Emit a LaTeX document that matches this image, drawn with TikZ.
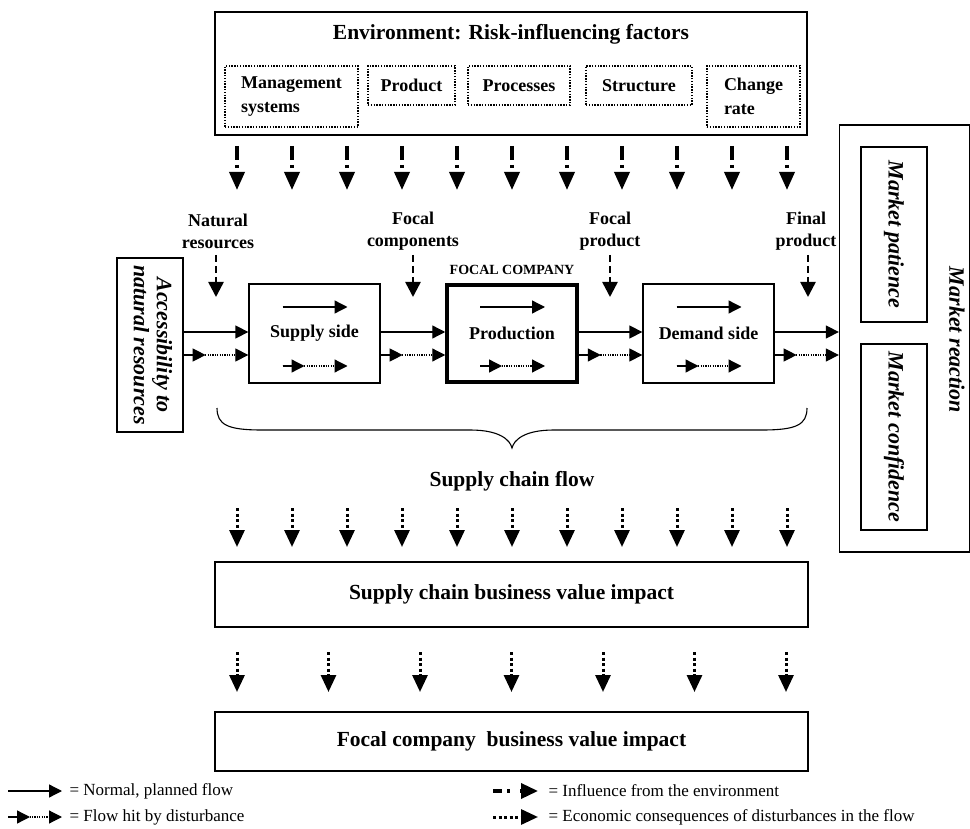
\documentclass[tikz,border=0pt]{standalone}
\usepackage{fontspec}
\setmainfont{Liberation Serif}
\usetikzlibrary{arrows.meta}
\newcommand\fTitle{\fontsize{21.5}{24}\selectfont\bfseries}
\newcommand\fLbl{\fontsize{18}{22}\selectfont\bfseries}
\newcommand\fLblb{\fontsize{18}{24}\selectfont\bfseries}
\newcommand\fItal{\fontsize{22}{23}\selectfont\bfseries\itshape}
\newcommand\fSmall{\fontsize{14}{16}\selectfont\bfseries}
\newcommand\fLeg{\fontsize{17}{19}\selectfont}
\newcommand\disturbarrow[2]{%
  \draw[dotflow] (#1) -- (#2);
  \draw[flow] (#1) -- ([xshift=22pt]#1);}
\begin{document}
\begin{tikzpicture}[x=1pt,y=-1pt,
  box/.style={draw,line width=1.3pt,inner sep=0pt,align=center},
  dbox/.style={draw,line width=1.4pt,dash pattern=on 1.4pt off 1.4pt,inner sep=0pt},
  flow/.style={line width=1.3pt,-{Triangle[length=13pt,width=13pt]}},
  dotflow/.style={line width=1.2pt,dash pattern=on 1.2pt off 1.2pt,-{Triangle[length=13pt,width=13pt]}},
  infl/.style={line width=3.5pt,dash pattern=on 14pt off 5pt on 3pt off 10pt,-{Triangle[length=18pt,width=15pt]}},
  inflh/.style={line width=3.5pt,dash pattern=on 9pt off 5pt on 3pt off 10pt,-{Triangle[length=17pt,width=15pt]}},
  lbldash/.style={line width=2.5pt,dash pattern=on 7pt off 4pt,-{Triangle[length=15pt,width=15pt]}},
  econ/.style={line width=3pt,dash pattern=on 3pt off 2.5pt,-{Triangle[length=17pt,width=15pt]}},
]
\path[use as bounding box] (0,0) rectangle (970,829);

% Environment
\node[box,minimum width=592pt,minimum height=123pt] (env) at (511,73.5) {};
\node[font=\fTitle] (envt) at (511,34) {Environment: Risk-influencing factors};
\node[dbox,minimum width=133pt,minimum height=61pt,align=left,font=\fLblb] (mgmt) at (291.5,96.5) {Management\\systems};
\node[dbox,minimum width=87pt,minimum height=39pt,font=\fLbl] (prod) at (411.5,85.5) {Product};
\node[dbox,minimum width=102pt,minimum height=39pt,font=\fLbl] (proc) at (519,85.5) {Processes};
\node[dbox,minimum width=106pt,minimum height=39pt,font=\fLbl] (struc) at (639,85.5) {Structure};
\node[dbox,minimum width=93pt,minimum height=61pt,align=left,font=\fLblb] (chg) at (753.5,96.5) {Change\\rate};

\foreach \i in {0,...,10}{
  \coordinate (ia\i) at (237+55*\i,146);
  \coordinate (ib\i) at (237+55*\i,190);
  \draw[infl] (ia\i) -- (ib\i);
}

% input labels
\node[font=\fLbl,align=center] (lnat) at (218,231) {Natural\\resources};
\node[font=\fLbl,align=center] (lfc) at (413,231) {Focal\\components};
\node[font=\fLbl,align=center] (lfp) at (610,231) {Focal\\product};
\node[font=\fLbl,align=center] (lfin) at (806,231) {Final\\product};
\foreach \n/\x in {nat/216,fc/413,fp/610,fin/808}{
  \coordinate (u\n) at (\x,255);
  \coordinate (d\n) at (\x,297);
  \draw[lbldash] (u\n) -- (d\n);
}

% chain boxes
\node[box,minimum width=66pt,minimum height=174pt] (acc) at (150,345)
  {\rotatebox{-90}{\fItal\begin{tabular}{@{}c@{}}Accessibility to\\natural resources\end{tabular}}};
\node[box,minimum width=131pt,minimum height=99pt,font=\fLbl] (supply) at (314.5,333.5) {Supply side};
\node[draw,line width=3.5pt,inner sep=0pt,minimum width=130pt,minimum height=97pt,font=\fLbl] (production) at (512,333.5) {Production};
\node[box,minimum width=131pt,minimum height=99pt,font=\fLbl] (demand) at (708.5,333.5) {Demand side};
\node[font=\fSmall] (focal) at (512,270) {FOCAL COMPANY};

% market
\node[box,minimum width=130pt,minimum height=427pt] (mkt) at (904.5,338.5) {};
\node[box,minimum width=66pt,minimum height=175pt] (pat) at (894,234.5)
  {\rotatebox{-90}{\fItal Market patience}};
\node[box,minimum width=66pt,minimum height=186pt] (conf) at (894,437)
  {\rotatebox{-90}{\fItal Market confidence}};
\node[rotate=-90,font=\fItal] (mreact) at (957,340) {Market reaction};

% flows between boxes
\coordinate (fA) at (0,332);
\coordinate (fB) at (0,355);
\foreach \a/\b in {acc/supply,supply/production,production/demand,demand/mkt}{
  \draw[flow] (\a.east |- fA) -- (\b.west |- fA);
  \disturbarrow{\a.east |- fB}{\b.west |- fB}
}
% flows inside boxes
\foreach \b in {supply,production,demand}{
  \draw[flow] ([xshift=-32pt,yshift=26.5pt]\b.center) -- ([xshift=33pt,yshift=26.5pt]\b.center);
  \coordinate (\b-da) at ([xshift=-32pt,yshift=-32.5pt]\b.center);
  \coordinate (\b-db) at ([xshift=33pt,yshift=-32.5pt]\b.center);
  \disturbarrow{\b-da}{\b-db}
}

% brace
\draw[line width=1.1pt] (217,408) .. controls (217,425) and (228,430) .. (262,430)
  -- (470,430) .. controls (500,430) and (510,440) .. (512,448)
  .. controls (514,440) and (524,430) .. (554,430) -- (762,430)
  .. controls (796,430) and (807,425) .. (807,408);
\node[font=\fTitle] (scf) at (512,481) {Supply chain flow};

% economic arrows row 1
\foreach \i in {0,...,10}{
  \coordinate (ea\i) at (237+55*\i,508);
  \coordinate (eb\i) at (237+55*\i,547);
  \draw[econ] (ea\i) -- (eb\i);
}
\node[box,minimum width=593pt,minimum height=65pt,font=\fTitle] (scbv) at (511.5,594.5) {Supply chain business value impact};
\foreach \i in {0,...,6}{
  \coordinate (ec\i) at (237+91.5*\i,652);
  \coordinate (ed\i) at (237+91.5*\i,692);
  \draw[econ] (ec\i) -- (ed\i);
}
\node[box,minimum width=593pt,minimum height=59pt,font=\fTitle] (fcbv) at (511.5,741.5) {Focal company\ \ business value impact};

% legend
\coordinate (l1a) at (8,791);   \coordinate (l1b) at (62,791);
\coordinate (l2a) at (8,817);   \coordinate (l2b) at (62,817);
\coordinate (l3a) at (493,791); \coordinate (l3b) at (538,791);
\coordinate (l4a) at (493,817); \coordinate (l4b) at (538,817);
\draw[flow] (l1a) -- (l1b);
\disturbarrow{l2a}{l2b}
\draw[inflh] (l3a) -- (l3b);
\draw[econ] (l4a) -- (l4b);
\node[font=\fLeg,anchor=west] (t1) at (66,791) {= Normal, planned flow};
\node[font=\fLeg,anchor=west] (t2) at (66,817) {= Flow hit by disturbance};
\node[font=\fLeg,anchor=west] (t3) at (545,791) {= Influence from the environment};
\node[font=\fLeg,anchor=west] (t4) at (545,817) {= Economic consequences of disturbances in the flow};
\end{tikzpicture}
\end{document}
